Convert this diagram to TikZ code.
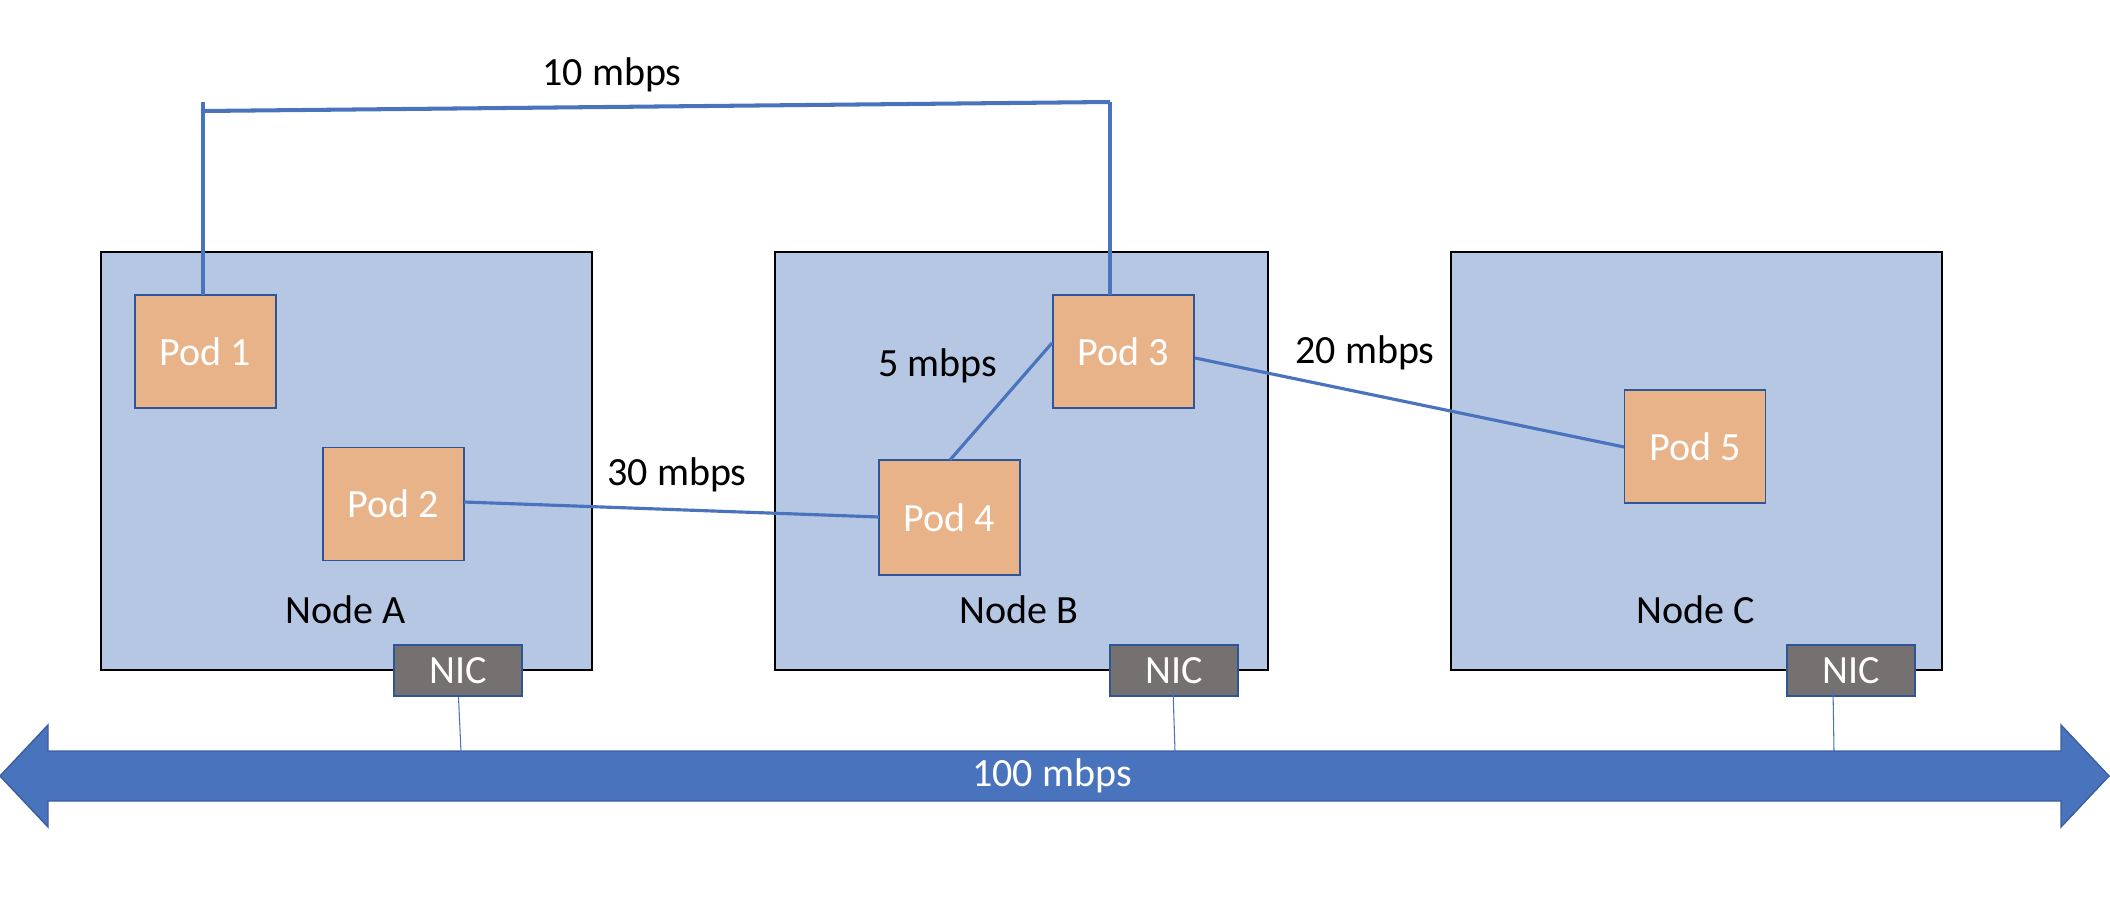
\documentclass[tikz,border=0pt]{standalone}
\usepackage{fontspec}
\setmainfont{Carlito}
\definecolor{nodefill}{HTML}{B6C7E4}
\definecolor{podfill}{HTML}{E9B38A}
\definecolor{podborder}{HTML}{2F5597}
\definecolor{nicfill}{HTML}{767171}
\definecolor{linkblue}{HTML}{4A73BD}
\definecolor{arrowfill}{HTML}{4A73BD}
\definecolor{arrowborder}{HTML}{3A5E9E}
\tikzset{
  hostbox/.style={draw=black, line width=1.4pt, fill=nodefill, inner sep=0pt, minimum width=491*0.02cm, minimum height=418*0.02cm},
  podbox/.style={draw=podborder, line width=1.1pt, fill=podfill, inner sep=0pt, minimum width=141*0.02cm, minimum height=113*0.02cm, text=white, font=\fontsize{22.8}{27}\selectfont},
  nicbox/.style={draw=podborder, line width=1.1pt, fill=nicfill, inner sep=0pt, minimum width=128*0.02cm, minimum height=51*0.02cm, text=white, font=\fontsize{22.8}{27}\selectfont},
  lbl/.style={inner sep=0pt, text=black, font=\fontsize{22.8}{27}\selectfont},
  link/.style={draw=linkblue, line width=1.8pt},
  niclink/.style={draw=linkblue, line width=0.6pt},
}
\begin{document}
\begin{tikzpicture}[x=0.02cm, y=-0.02cm]
\useasboundingbox (0,0) rectangle (2110,912);
% hosts
\node[hostbox] (nodeA) at (346.5,461) {};
\node[hostbox, minimum width=493*0.02cm] (nodeB) at (1021.5,461) {};
\node[hostbox] (nodeC) at (1696.5,461) {};
\node[lbl] (labA) at (346,610) {Node A};
\node[lbl] (labB) at (1019,610) {Node B};
\node[lbl] (labC) at (1696,610) {Node C};
% pods
\node[podbox] (pod1) at (205.5,351.5) {Pod 1};
\node[podbox] (pod2) at (393.5,504) {Pod 2};
\node[podbox] (pod3) at (1123.5,351.5) {Pod 3};
\node[podbox, minimum height=115*0.02cm] (pod4) at (949.5,517.5) {Pod 4};
\node[podbox] (pod5) at (1695,446.5) {Pod 5};
% NICs
\node[nicbox] (nicA) at (458,670.5) {NIC};
\node[nicbox] (nicB) at (1174,670.5) {NIC};
\node[nicbox] (nicC) at (1851,670.5) {NIC};
% bus arrow
\path[fill=arrowfill, draw=arrowborder, line width=0.8pt]
  (0,776) -- (48,725) -- (48,751) -- (2061,751) -- (2061,725) -- (2109,776)
  -- (2061,827) -- (2061,801) -- (48,801) -- (48,827) -- cycle;
\node[lbl, text=white] (bus) at (1052,776) {100 mbps};
\coordinate (busA) at (461,752);
\coordinate (busB) at (1175,751);
\coordinate (busC) at (1834,751);
\coordinate (nicBin) at (1173,689);
\coordinate (nicCin) at (1833,689);
\draw[niclink] (nicA.south) ++(0.5,0) -- (busA);
\draw[niclink] (nicBin) -- (busB);
\draw[niclink] (nicCin) -- (busC);
% 10 mbps link
\coordinate (p1top) at (203,295);
\coordinate (p1up) at (203,102);
\coordinate (hl) at (203,111);
\coordinate (hr) at (1110,102);
\coordinate (p3top) at (1110,295);
\draw[link] (p1top) -- (p1up);
\draw[link, line width=2.3pt] (hl) -- (hr);
\draw[link] (hr) -- (p3top);
\node[lbl] (l10) at (612,75) {10 mbps};
% other links
\coordinate (p2r) at (464,502);
\coordinate (p4l) at (879,517);
\draw[link] (p2r) -- (p4l);
\node[lbl] (l30) at (677,475) {30 mbps};
\coordinate (p4t) at (950,460);
\coordinate (p3l) at (1052,343);
\draw[link] (p4t) -- (p3l);
\node[lbl] (l5) at (938,366) {5 mbps};
\coordinate (p3r) at (1195,358);
\coordinate (p5l) at (1624,447);
\draw[link] (p3r) -- (p5l);
\node[lbl] (l20) at (1365,353) {20 mbps};
\end{tikzpicture}
\end{document}
